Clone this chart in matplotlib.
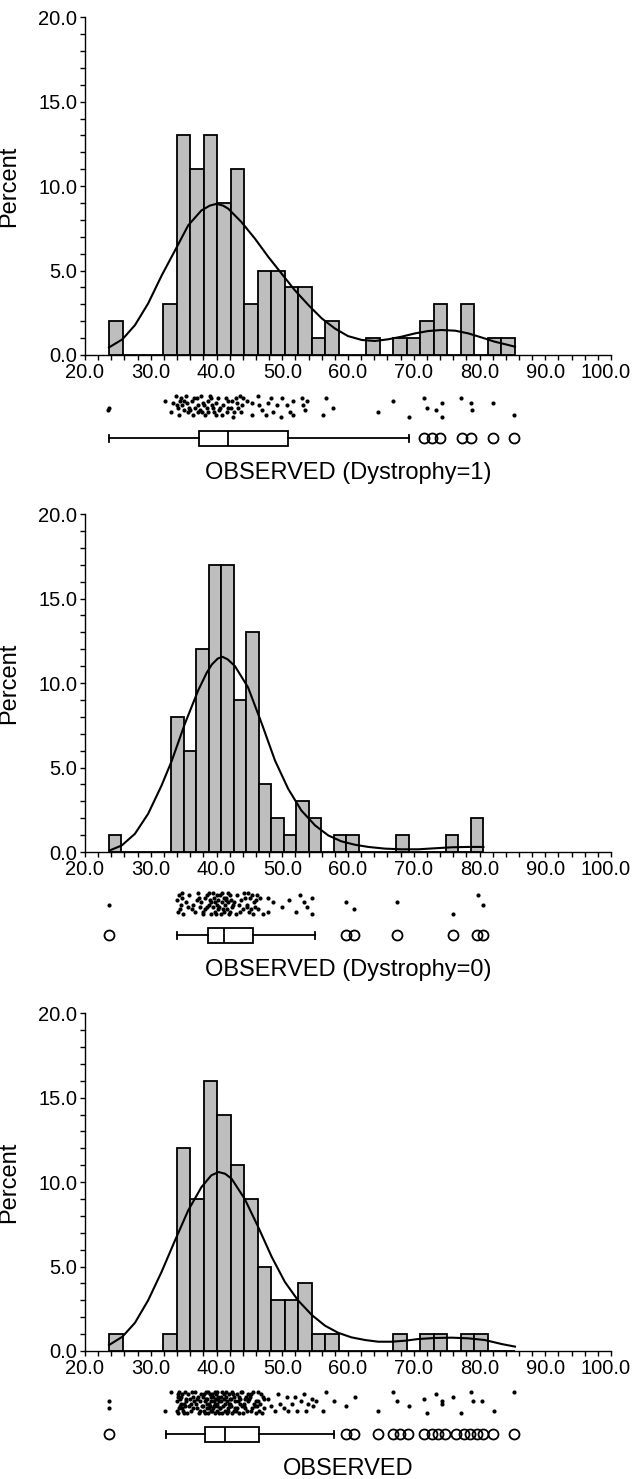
import numpy as np
import matplotlib
matplotlib.use("Agg")
from matplotlib import pyplot as plt
from matplotlib import transforms as mtransforms
from matplotlib.ticker import MultipleLocator, FormatStrFormatter

plt.rcParams['font.family'] = ['Liberation Sans', 'DejaVu Sans']

W, H = 634, 1479  # output size in px (dpi 100)

# ---------------- Dystrophy=1 ----------------
p1_label = "OBSERVED (Dystrophy=1)"
p1_range = (23.65, 85.38)  # min / max of data, 30 equal bins in between
p1_pct = [2, 0, 0, 0, 3, 13, 11, 13, 9, 11, 3, 5, 5, 4, 4, 1, 2, 0, 0, 1,
          0, 1, 1, 2, 3, 0, 3, 0, 1, 1]
p1_curve_x = [23.65, 25.7, 27.6, 29.6, 31.65, 33.7, 35.7, 37.7, 39.0, 40.0, 41.0, 41.8,
              43.8, 45.85, 47.9, 49.9, 51.9, 54.0, 56.0, 58.0, 60.0, 62.1, 64.1, 66.1,
              68.1, 70.2, 72.2, 74.2, 76.3, 78.3, 80.3, 82.3, 84.3, 85.4]
p1_curve_y = [0.45, 0.93, 1.77, 3.05, 4.7, 6.2, 7.68, 8.56, 8.85, 8.95, 8.85, 8.66,
              7.87, 6.89, 5.8, 4.82, 3.84, 2.95, 2.17, 1.57, 1.12, 0.89, 0.83, 0.93,
              1.08, 1.28, 1.42, 1.48, 1.44, 1.28, 1.04, 0.79, 0.6, 0.49]
p1_obs = [23.55, 23.7, 32.17, 33.08, 33.43, 33.84, 34.04, 34.19, 34.35, 34.5,
          34.6, 34.8, 35.01, 35.11, 35.31, 35.46, 35.72, 35.87, 36.02, 36.22,
          36.48, 36.63, 36.73, 36.98, 37.13, 37.24, 37.49, 37.64, 37.84, 38.0,
          38.15, 38.25, 38.5, 38.66, 38.76, 39.01, 39.16, 39.26, 39.52, 39.67,
          39.87, 39.97, 40.18, 40.38, 40.53, 40.78, 41.04, 41.39, 41.55, 41.7,
          41.8, 42.21, 42.31, 42.56, 42.71, 42.92, 43.07, 43.32, 43.58, 43.73,
          43.83, 44.03, 44.59, 45.35, 45.35, 46.26, 46.46, 46.87, 47.53, 47.88,
          48.29, 48.64, 49.15, 49.76, 49.91, 50.67, 51.18, 51.68, 51.68, 53.05,
          53.21, 53.46, 53.81, 56.25, 56.65, 57.77, 64.51, 66.79, 69.28, 71.61,
          72.07, 73.33, 74.25, 74.35, 77.19, 78.71, 78.91, 82.1, 85.3]
# vertical jitter of each dot, 0 (top of strip) .. 9 (bottom)
p1_jit = "6527304582 1426037562 8151476073 4857201457 3816584172 5529713507 4123804683 1749147821 4628157291 563913638"
p1_box = [23.7, 37.4, 41.7, 50.8, 69.3]  # whislo, q1, med, q3, whishi
p1_out = [71.6, 72.7, 74.0, 77.3, 78.7, 82.1, 85.25]

# ---------------- Dystrophy=0 ----------------
p2_label = "OBSERVED (Dystrophy=0)"
p2_range = (23.65, 80.6)
p2_pct = [1, 0, 0, 0, 0, 8, 6, 12, 17, 17, 9, 13, 4, 2, 1, 3, 2, 0, 1, 1,
          0, 0, 0, 1, 0, 0, 0, 1, 0, 2]
p2_curve_x = [23.8, 25.6, 27.6, 29.6, 31.65, 33.2, 35.2, 37.2, 38.5, 39.3, 40.2, 40.9,
              41.7, 42.8, 44.8, 46.9, 48.9, 50.9, 52.9, 55.0, 57.0, 59.0, 61.05, 63.1,
              65.6, 68.1, 70.7, 73.2, 75.8, 78.3, 80.6]
p2_curve_y = [0.1, 0.39, 1.08, 2.26, 3.94, 5.4, 7.6, 9.55, 10.6, 11.1, 11.45, 11.55,
              11.4, 11.0, 9.74, 7.58, 5.41, 3.74, 2.46, 1.57, 0.98, 0.63, 0.43, 0.30,
              0.2, 0.16, 0.16, 0.22, 0.28, 0.30, 0.30]
p2_obs = [23.65,
          33.95, 34.1, 34.25, 34.4, 34.55, 34.7, 34.8, 34.95,
          35.3, 35.6, 35.8, 36.2, 36.5, 36.8,
          37.0, 37.2, 37.4, 37.5, 37.7, 37.9, 38.0, 38.2, 38.3, 38.5, 38.6, 38.8,
          38.9, 39.0, 39.1, 39.2, 39.4, 39.5, 39.6, 39.7, 39.8, 39.9, 40.0, 40.1,
          40.2, 40.3, 40.4, 40.5, 40.7,
          40.8, 40.9, 41.0, 41.1, 41.2, 41.3, 41.4, 41.5, 41.6, 41.7, 41.8, 41.9,
          42.0, 42.1, 42.2, 42.4, 42.5,
          42.7, 42.9, 43.1, 43.4, 43.6, 43.8, 44.0, 44.2, 44.4,
          44.6, 44.7, 44.8, 45.0, 45.1, 45.2, 45.4, 45.5, 45.7, 45.8, 46.0, 46.2, 46.3,
          46.6, 47.0,
          47.88, 47.88, 48.64, 49.91, 51.03, 52.14, 52.65, 53.26, 53.76, 54.47, 54.57,
          59.65, 60.96, 67.45, 75.97, 79.72, 80.58]
p2_jit = ("5 3817502946 1758302649 8271605394 0628491573 6194072853 2740918365 "
          "4915837026 5082719463 1729 28463814629474915")
p2_box = [33.94, 38.66, 41.19, 45.6, 55.03]
p2_out = [23.7, 59.65, 60.96, 67.4, 75.9, 79.6, 80.6]

# ---------------- all eyes ----------------
p3_label = "OBSERVED"
p3_range = (23.65, 85.38)
p3_pct = [1, 0, 0, 0, 1, 12, 9, 16, 14, 11, 9, 5, 3, 3, 4, 1, 1, 0, 0, 0,
          0, 1, 0, 1, 1, 0, 1, 1, 0, 0]
p3_curve_x = [23.65, 25.7, 27.6, 29.6, 31.65, 33.7, 35.7, 37.7, 39.2, 40.3, 41.3, 42.3,
              44.3, 46.35, 48.4, 50.4, 52.4, 54.5, 56.5, 58.5, 60.5, 62.6, 64.6, 66.6,
              68.7, 70.7, 73.2, 75.8, 78.3, 80.8, 83.4, 85.4]
p3_curve_y = [0.35, 0.85, 1.67, 3.0, 4.69, 6.56, 8.33, 9.7, 10.4, 10.6, 10.5, 10.2,
              9.0, 7.34, 5.57, 4.09, 3.0, 2.13, 1.5, 1.08, 0.81, 0.65, 0.55, 0.55,
              0.61, 0.71, 0.77, 0.79, 0.75, 0.65, 0.41, 0.26]
p3_obs = [23.65, 23.65, 32.17, 33.08,
          33.95, 34.0, 34.1, 34.15, 34.2, 34.3, 34.35, 34.45, 34.5, 34.6, 34.65, 34.75,
          34.8, 34.9, 35.0, 35.05, 35.15, 35.2, 35.3, 35.4, 35.5, 35.6, 35.75, 35.9,
          36.05, 36.15, 36.3, 36.4, 36.5, 36.65, 36.75, 36.85, 37.0, 37.1, 37.2, 37.35,
          37.45, 37.55, 37.65, 37.8, 37.9, 38.0,
          38.1, 38.15, 38.2, 38.3, 38.35, 38.4, 38.5, 38.55, 38.6, 38.7,
          38.75, 38.8, 38.9, 38.95, 39.0, 39.1, 39.15, 39.2, 39.3, 39.35,
          39.4, 39.5, 39.55, 39.6, 39.7, 39.75, 39.8, 39.9, 39.95, 40.0, 40.05, 40.1,
          40.15, 40.2, 40.3, 40.35, 40.45, 40.5, 40.6, 40.7, 40.75, 40.85,
          40.9, 41.0, 41.1, 41.15, 41.25, 41.3, 41.4, 41.5, 41.55, 41.65,
          41.7, 41.8, 41.85, 41.9, 42.0, 42.05, 42.1, 42.15,
          42.2, 42.3, 42.4, 42.5, 42.6, 42.7, 42.75, 42.85, 42.95, 43.05,
          43.15, 43.25, 43.35, 43.45, 43.55, 43.65, 43.75, 43.85, 43.95, 44.05, 44.15, 44.2,
          44.3, 44.4, 44.5, 44.6, 44.75, 44.85, 44.95, 45.1, 45.2, 45.3,
          45.45, 45.55, 45.7, 45.8, 45.95, 46.05, 46.15, 46.25,
          46.35, 46.45, 46.6, 46.7, 46.85, 47.0, 47.15, 47.3,
          47.88, 48.29, 48.9, 49.3, 49.71, 50.21, 50.67, 50.92, 51.53, 51.94,
          52.24, 52.85, 53.36, 53.56, 53.97, 54.47, 54.73, 55.08,
          56.25, 56.6, 57.87, 59.65, 61.07, 64.51, 66.79, 67.4, 69.28, 71.61,
          72.07, 73.33, 74.25, 74.35, 76.02, 77.19, 78.71, 79.06, 80.33, 82.2, 85.3]
p3_jit = ("4780 4829170635 2718596043 9163850274 0537294816 6281943057 3905716248 "
          "8172640593 1650832947 7429061385 2094785163 5360918274 8714293506 "
          "0956372841 3281705694 6048519237 368157285284185364 804628046391452904480")
p3_box = [32.32, 38.25, 41.29, 46.52, 57.87]
p3_out = [23.7, 59.65, 60.96, 64.5, 66.8, 67.9, 69.2, 71.6, 72.7, 73.7, 74.75,
          76.5, 77.6, 78.5, 79.6, 80.6, 82.1, 85.25]

panels = [
    (p1_label, p1_range, p1_pct, p1_curve_x, p1_curve_y, p1_obs, p1_jit, p1_box, p1_out),
    (p2_label, p2_range, p2_pct, p2_curve_x, p2_curve_y, p2_obs, p2_jit, p2_box, p2_out),
    (p3_label, p3_range, p3_pct, p3_curve_x, p3_curve_y, p3_obs, p3_jit, p3_box, p3_out),
]
# pixel rows of the 20.0 tick and the 0.0 baseline for each panel
tops = [17.3, 514, 1013.3]
bases = [355, 852, 1351]

AX_L, AX_R = 85, 611
LW = 1.0


def px_axes(fig, left, top, right, bottom):
    return fig.add_axes([left / W, 1 - bottom / H, (right - left) / W, (bottom - top) / H])


fig = plt.figure(figsize=(W / 100, H / 100), dpi=100)

for (label, rng, pct, cx, cy, obs, jit, box, out), top, base in zip(panels, tops, bases):
    ax = px_axes(fig, AX_L, top, AX_R, base)
    edges = np.linspace(rng[0], rng[1], len(pct) + 1)
    ax.bar(edges[:-1], pct, width=np.diff(edges), align="edge",
           color="#bebebe", edgecolor="black", linewidth=1.3, zorder=2)
    ax.plot(cx, cy, color="black", lw=1.5, zorder=3)

    ax.set_xlim(20, 100)
    ax.set_ylim(0, 20)
    for s in ("top", "right"):
        ax.spines[s].set_visible(False)
    for s in ("left", "bottom"):
        ax.spines[s].set_linewidth(LW)
    ax.xaxis.set_major_locator(MultipleLocator(10))
    ax.xaxis.set_minor_locator(MultipleLocator(2))
    ax.yaxis.set_major_locator(MultipleLocator(5))
    ax.yaxis.set_minor_locator(MultipleLocator(1))
    ax.xaxis.set_major_formatter(FormatStrFormatter("%.1f"))
    ax.yaxis.set_major_formatter(FormatStrFormatter("%.1f"))
    ax.tick_params(which="both", direction="out", length=3.6, width=LW,
                   labelsize=14.5, pad=2)
    ax.set_ylabel("Percent", fontsize=17)
    ax.yaxis.set_label_coords(-0.124, 0.5)

    # nudge the "100.0" label left a few px so it stays inside the figure
    locs = list(ax.xaxis.get_majorticklocs())
    if 100 in locs:
        last = ax.xaxis.get_major_ticks(len(locs))[locs.index(100)]
        last.label1.set_transform(last.label1.get_transform() +
                                  mtransforms.ScaledTranslation(-0.05, 0, fig.dpi_scale_trans))

    # strip of raw values + box plot under the histogram (y in px below the strip top)
    ax2 = px_axes(fig, AX_L, base + 35, AX_R, base + 91.6)
    ax2.set_xlim(20, 100)
    ax2.set_ylim(56.6, 0)
    ax2.axis("off")
    jv = np.array([int(c) for c in jit.replace(" ", "")]) / 9.0
    assert len(jv) == len(obs), (label, len(jv), len(obs))
    ax2.scatter(obs, 6 + 21 * jv, s=9, color="black", linewidths=0, clip_on=False)

    stats = [dict(whislo=box[0], q1=box[1], med=box[2], q3=box[3], whishi=box[4], fliers=out)]
    ax2.bxp(stats, positions=[48], widths=15, capwidths=7, orientation="horizontal",
            patch_artist=True, manage_ticks=False,
            boxprops=dict(facecolor="white", edgecolor="black", linewidth=1.3),
            medianprops=dict(color="black", linewidth=1.3),
            whiskerprops=dict(color="black", linewidth=1.3),
            capprops=dict(color="black", linewidth=1.3),
            flierprops=dict(marker="o", markerfacecolor="none", markeredgecolor="black",
                            markersize=7.2, markeredgewidth=1.3))

    fig.text(348 / W, 1 - (base + 124) / H, label, ha="center", va="baseline", fontsize=17)

fig.savefig("out.png", dpi=100)
